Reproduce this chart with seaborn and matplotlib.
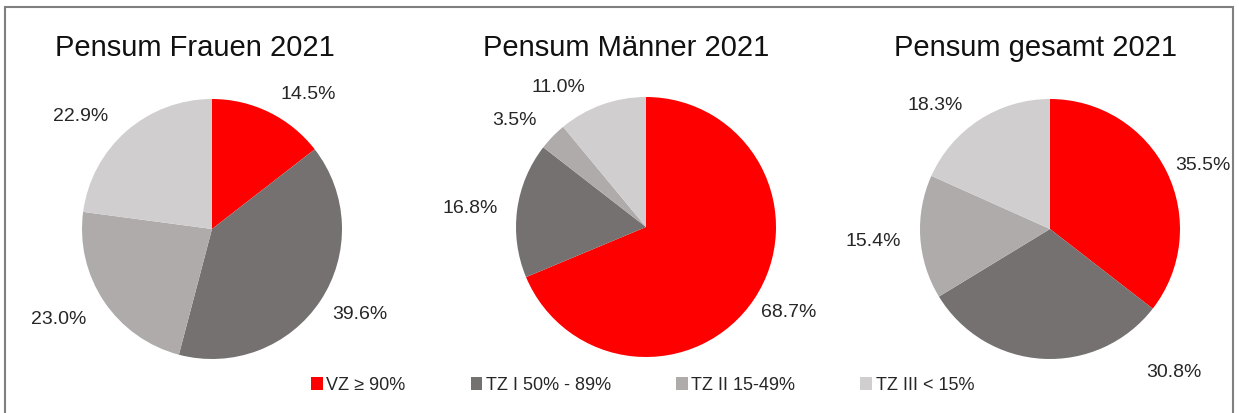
import matplotlib
matplotlib.use("Agg")
import matplotlib.pyplot as plt
import seaborn as sns
from matplotlib.patches import Rectangle, Patch

sns.set_style("white")
plt.rcParams['font.family'] = ['Liberation Sans', 'DejaVu Sans']

# data
categories = ["VZ ≥ 90%", "TZ I 50% - 89%", "TZ II 15-49%", "TZ III < 15%"]
titles = ["Pensum Frauen 2021", "Pensum Männer 2021", "Pensum gesamt 2021"]
frauen = [14.5, 39.6, 23.0, 22.9]
maenner = [68.7, 16.8, 3.5, 11.0]
gesamt = [35.5, 30.8, 15.4, 18.3]

colors = sns.color_palette(["#ff0000", "#767171", "#afabab", "#d0cece"])

# label offsets (in radius units, relative to pie centre) - layout only
label_pos = [
    [(0.74, 1.04), (1.14, -0.65), (-1.18, -0.69), (-1.01, 0.87)],
    [(1.10, -0.65), (-1.35, 0.15), (-1.01, 0.83), (-0.67, 1.08)],
    [(1.18, 0.50), (0.95, -1.10), (-1.36, -0.09), (-0.88, 0.96)],
]

fig = plt.figure(figsize=(12.39, 4.14), dpi=100)
W, H = 1239, 414
R = 130  # pie radius in px
centers = [(212, 230), (646, 228), (1050, 230)]
title_x = [195, 626, 1035]

for i, (vals, (cx, cy)) in enumerate(zip([frauen, maenner, gesamt], centers)):
    size = 3 * R
    ax = fig.add_axes([(cx - size / 2) / W, (H - cy - size / 2) / H, size / W, size / H])
    wedges, _ = ax.pie(vals, colors=colors, startangle=90, counterclock=False,
                       radius=1, wedgeprops=dict(linewidth=0))
    ax.set_xlim(-1.5, 1.5)
    ax.set_ylim(-1.5, 1.5)
    ax.set_aspect("equal")
    ax.axis("off")
    for v, (lx, ly) in zip(vals, label_pos[i]):
        ax.text(lx, ly, f"{v:.1f}%", ha="center", va="center", fontsize=14, color="#262626")
    fig.text(title_x[i] / W, 1 - 48 / H, titles[i], ha="center", va="center",
             fontsize=21, color="#111111")

handles = [Patch(facecolor=c, edgecolor="none") for c in colors]
leg = fig.legend(handles, categories, loc="center left", bbox_to_anchor=(302 / W, 1 - 386 / H),
                 ncol=4, frameon=False, borderpad=0, handlelength=0.65, handleheight=0.7,
                 handletextpad=0.2, columnspacing=3.6,
                 prop=dict(size=13))
for t in leg.get_texts():
    t.set_color("#262626")

# outer frame
fig.patches.append(Rectangle((5 / W, -0.05), 1228 / W, 1 - 8 / H + 0.05,
                             transform=fig.transFigure, fill=False,
                             edgecolor="#7f7f7f", linewidth=1.5))

fig.savefig("out.png", dpi=100)
